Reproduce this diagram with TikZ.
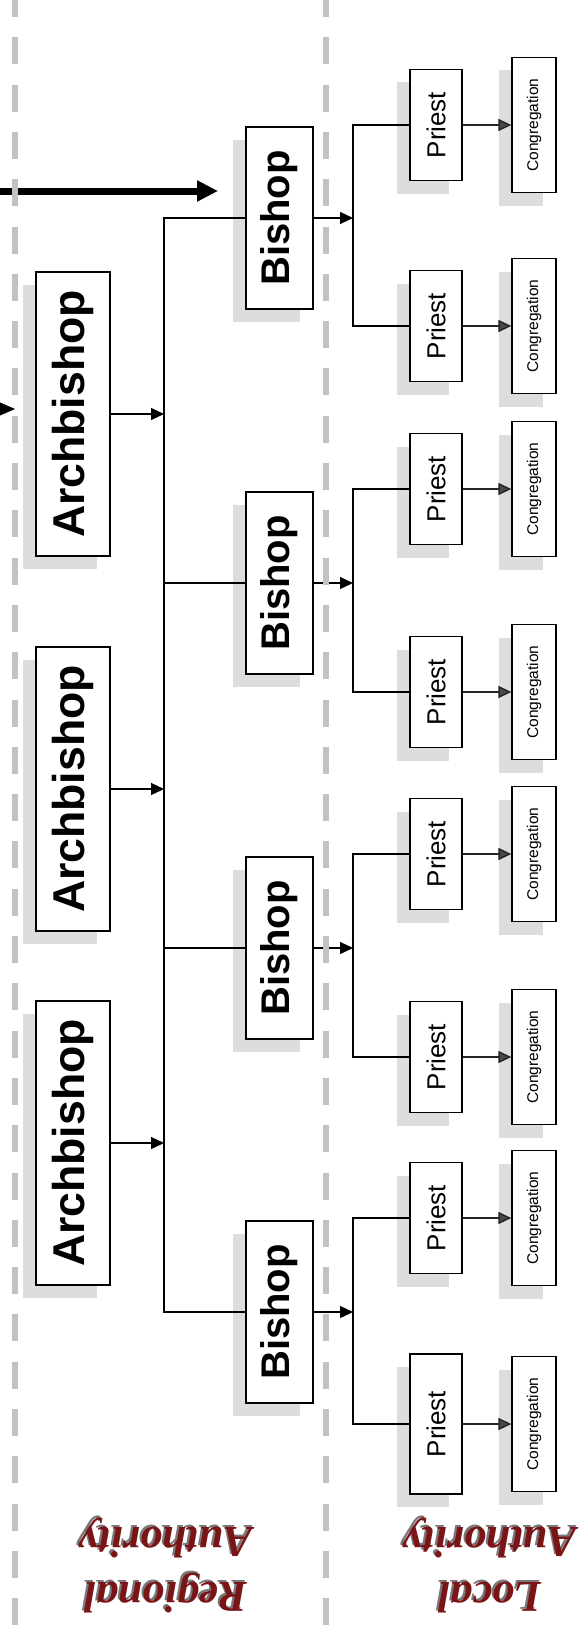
\documentclass[tikz,border=0pt]{standalone}
\usepackage{fontspec}
\setmainfont{Liberation Sans}
\newfontfamily\authfont{Liberation Serif}
\usepackage{graphicx}
\usetikzlibrary{arrows.meta,shadows}

\definecolor{shade}{RGB}{221,221,221}
\definecolor{divider}{RGB}{194,194,194}
\definecolor{authred}{RGB}{122,20,22}
\definecolor{authshadow}{RGB}{120,120,120}
\definecolor{tipgray}{RGB}{72,72,72}

\begin{document}
\begin{tikzpicture}[x=1pt,y=-1pt,
  box/.style={draw=black, line width=1.3pt, fill=white, inner sep=0pt,
    drop shadow={shadow xshift=-13pt, shadow yshift=-13pt, opacity=1, fill=shade}},
  archbox/.style={box, minimum width=74pt, minimum height=284pt,
    font=\fontsize{44.6}{50}\selectfont\bfseries},
  bishopbox/.style={box, minimum width=67pt, minimum height=182pt,
    font=\fontsize{40}{46}\selectfont\bfseries},
  priestbox/.style={box, minimum width=52pt, minimum height=111pt,
    font=\fontsize{26}{30}\selectfont},
  congbox/.style={box, minimum width=44pt, minimum height=135pt,
    font=\fontsize{15.5}{18}\selectfont},
  link/.style={line width=1.3pt, draw=black},
  feed/.style={link, -{Triangle[length=13pt,width=12pt]}},
  serve/.style={line width=1.5pt, draw=black!85, -{Triangle[length=13pt,width=12pt,fill=tipgray]}},
  flow/.style={line width=7pt, draw=black, -{Triangle[length=21pt,width=20pt]}},
  dividerline/.style={draw=divider, line width=6pt, dash pattern=on 27pt off 20.3pt, dash phase=10pt},
  authlabel/.style={rotate=180, anchor=base, inner sep=0pt, text=authred,
    font=\fontsize{44}{50}\selectfont\authfont\bfseries\itshape},
  authecho/.style={authlabel, text=authshadow}
]
\useasboundingbox[fill=white] (0,0) rectangle (580,1627);

% incoming flows at the left edge
\coordinate (inflow) at (0,191);
\coordinate (inflowend) at (218,191);
\draw[flow] (inflow) -- (inflowend);
\coordinate (sidefeed) at (-6,409);
\coordinate (sidetip) at (15,409);
\draw[line width=1pt, -{Triangle[length=21pt,width=18pt]}] (sidefeed) -- (sidetip);

% archbishops
\node[archbox] (a1) at (73,414)  {\rotatebox{90}{Archbishop}};
\node[archbox] (a2) at (73,789)  {\rotatebox{90}{Archbishop}};
\node[archbox] (a3) at (73,1143) {\rotatebox{90}{Archbishop}};

% bishops
\node[bishopbox] (b1) at (279.5,218)  {\rotatebox{90}{Bishop}};
\node[bishopbox] (b2) at (279.5,583)  {\rotatebox{90}{Bishop}};
\node[bishopbox] (b3) at (279.5,948)  {\rotatebox{90}{Bishop}};
\node[bishopbox] (b4) at (279.5,1312) {\rotatebox{90}{Bishop}};

% priests
\node[priestbox] (p1) at (436,125)  {\rotatebox{90}{Priest}};
\node[priestbox] (p2) at (436,326)  {\rotatebox{90}{Priest}};
\node[priestbox] (p3) at (436,489)  {\rotatebox{90}{Priest}};
\node[priestbox] (p4) at (436,692)  {\rotatebox{90}{Priest}};
\node[priestbox] (p5) at (436,854)  {\rotatebox{90}{Priest}};
\node[priestbox] (p6) at (436,1057) {\rotatebox{90}{Priest}};
\node[priestbox] (p7) at (436,1218) {\rotatebox{90}{Priest}};
\node[priestbox, minimum height=140pt] (p8) at (436,1424) {\rotatebox{90}{Priest}};

% congregations
\foreach \i/\y in {1/125,2/326,3/489,4/692,5/854,6/1057,7/1218,8/1424}
  \node[congbox] (c\i) at (534,\y) {\rotatebox{90}{Congregation}};

% regional trunk
\coordinate (trunk) at (164,0);
\draw[link] (b1.west) -- (b1.west -| trunk) -- (b4.west -| trunk) -- (b4.west);
\draw[link] (b2.west) -- (b2.west -| trunk);
\draw[link] (b3.west) -- (b3.west -| trunk);
\foreach \a in {a1,a2,a3}
  \draw[feed] (\a.east) -- (\a.east -| trunk);

% local forks
\coordinate (fork) at (353,0);
\foreach \b/\u/\v in {b1/p1/p2, b2/p3/p4, b3/p5/p6, b4/p7/p8} {
  \draw[feed] (\b.east) -- (\b.east -| fork);
  \draw[link] (\u.west) -- (\u.west -| fork) -- (\v.west -| fork) -- (\v.west);
}
\foreach \i in {1,...,8}
  \draw[serve] (p\i.east) -- (c\i.west);

% authority dividers
\draw[dividerline] (15,0) -- (15,1627);
\draw[dividerline] (326,0) -- (326,1627);

% authority labels
\node[authecho] at (164,1580) {Regional};
\node[authecho] at (164,1525.5) {Authority};
\node[authlabel] (regional) at (166,1582) {Regional};
\node[authlabel] (regionalb) at (166,1527.5) {Authority};
\node[authecho] at (488,1580) {Local};
\node[authecho] at (488,1525.5) {Authority};
\node[authlabel] (local) at (490,1582) {Local};
\node[authlabel] (localb) at (490,1527.5) {Authority};
\end{tikzpicture}
\end{document}
